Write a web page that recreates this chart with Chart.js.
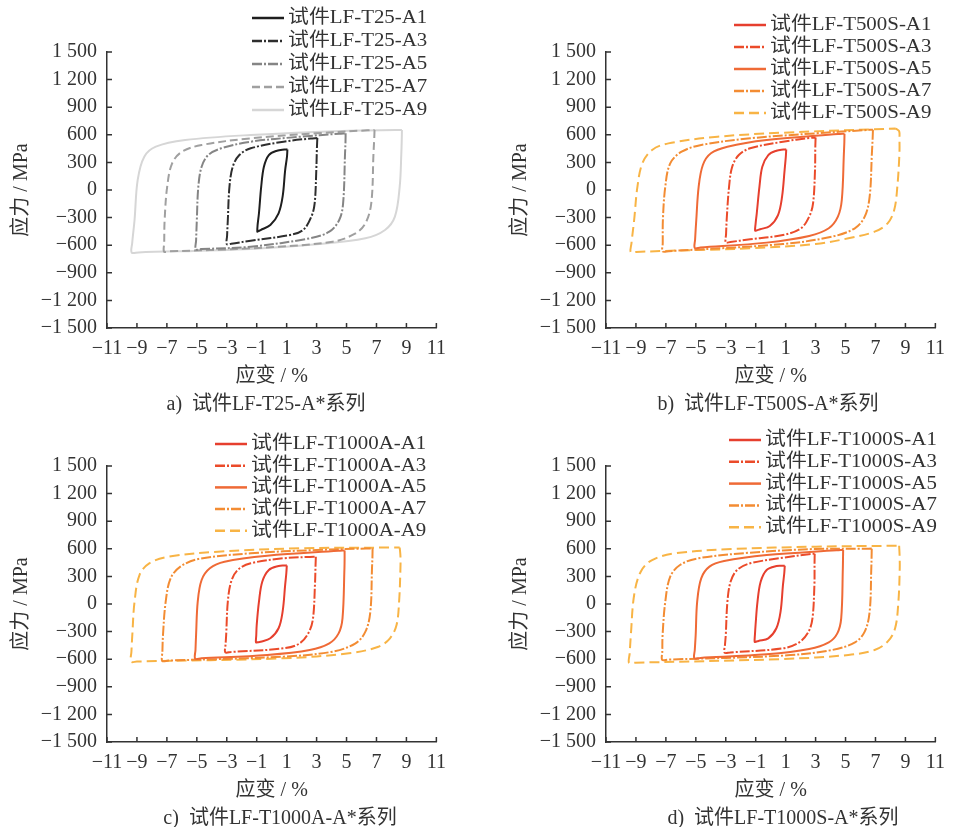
<!DOCTYPE html>
<html>
<head>
<meta charset="utf-8">
<script src="https://cdn.jsdelivr.net/npm/chart.js@4.4.1/dist/chart.umd.min.js"></script>
<style>
  body { margin: 0; background: #fff; width: 954px; height: 827px; position: relative; overflow: hidden; }
  canvas { position: absolute; }
  .cap { position: absolute; font: 20px 'Liberation Serif', 'Noto Sans CJK SC', serif; color: #333;
         transform: translateX(-50%); white-space: pre; line-height: 24px; }
</style>
</head>
<body>
<canvas id="chartA" width="455" height="395" style="left:0;top:0"></canvas>
<canvas id="chartB" width="455" height="395" style="left:499px;top:0"></canvas>
<canvas id="chartC" width="455" height="395" style="left:0;top:414px"></canvas>
<canvas id="chartD" width="455" height="395" style="left:499px;top:414px"></canvas>
<div class="cap" style="left:266px;top:391px">a)  试件LF-T25-A*系列</div>
<div class="cap" style="left:768px;top:391px">b)  试件LF-T500S-A*系列</div>
<div class="cap" style="left:280px;top:805px">c)  试件LF-T1000A-A*系列</div>
<div class="cap" style="left:783px;top:805px">d)  试件LF-T1000S-A*系列</div>
<script>
// axis ticks
const xTickValues = [-11, -9, -7, -5, -3, -1, 1, 3, 5, 7, 9, 11];
const xTickLabels = ['−11', '−9', '−7', '−5', '−3', '−1', '1', '3', '5', '7', '9', '11'];
const yTickValues = [-1500, -1200, -900, -600, -300, 0, 300, 600, 900, 1200, 1500];
const yTickLabels = ['−1 500', '−1 200', '−900', '−600', '−300', '0', '300', '600', '900', '1 200', '1 500'];

// hysteresis loops, [strain %, stress MPa]
const t25A1 = [[1.05,442],[1.02,360],[0.90,217],[0.73,-73],[0.46,-253],[-0.09,-380],[-0.74,-435],[-0.90,-448],[-0.96,-453],[-0.94,-380],[-0.85,-253],[-0.70,36],[-0.52,253],[-0.19,380],[0.35,427],[0.85,440],[1.05,442]];
const t25A3 = [[3.05,565],[3.02,450],[2.98,217],[2.87,-145],[2.65,-290],[2.10,-435],[1.22,-489],[-1.40,-551],[-2.70,-584],[-3.00,-588],[-2.98,-500],[-2.93,-326],[-2.82,36],[-2.60,253],[-2.16,380],[-1.40,453],[0.79,525],[2.60,560],[3.05,565]];
const t25A5 = [[4.94,616],[4.93,520],[4.90,399],[4.77,-145],[4.51,-326],[3.85,-453],[2.54,-525],[-1.40,-616],[-4.70,-642],[-5.07,-645],[-5.05,-550],[-5.00,-326],[-4.90,36],[-4.68,253],[-4.24,380],[-3.37,453],[-1.40,525],[1.88,579],[4.50,612],[4.94,616]];
const t25A7 = [[6.87,652],[6.85,560],[6.80,399],[6.65,-145],[6.26,-362],[5.60,-471],[4.07,-562],[-1.40,-634],[-6.80,-667],[-7.19,-670],[-7.18,-580],[-7.15,-326],[-6.98,36],[-6.65,290],[-5.99,416],[-4.68,489],[-1.40,562],[2.98,616],[6.40,649],[6.87,652]];
const t25A9 = [[8.70,652],[8.69,560],[8.66,399],[8.55,36],[8.23,-290],[7.57,-435],[6.26,-525],[2.98,-590],[-1.40,-640],[-8.90,-678],[-9.35,-680],[-9.32,-580],[-9.16,-326],[-8.95,109],[-8.51,362],[-7.74,471],[-5.77,543],[-1.40,598],[5.16,645],[8.30,652],[8.70,652]];

const t500A1 = [[1.04,442],[1.01,360],[0.93,217],[0.76,-73],[0.49,-272],[-0.06,-391],[-0.71,-427],[-0.95,-440],[-1.04,-442],[-1.01,-370],[-0.93,-253],[-0.75,36],[-0.56,253],[-0.16,380],[0.38,427],[0.85,440],[1.04,442]];
const t500A3 = [[3.00,570],[2.98,460],[2.96,217],[2.83,-145],[2.57,-290],[2.02,-416],[0.82,-489],[-1.37,-536],[-2.70,-565],[-3.00,-569],[-2.98,-480],[-2.94,-326],[-2.78,36],[-2.57,253],[-2.13,380],[-1.37,453],[0.82,525],[2.60,565],[3.00,570]];
const t500A5 = [[4.93,612],[4.92,520],[4.89,399],[4.75,-109],[4.49,-290],[3.88,-416],[2.57,-500],[-0.27,-572],[-4.70,-626],[-5.07,-630],[-5.05,-540],[-4.97,-326],[-4.81,36],[-4.53,272],[-3.99,399],[-2.89,471],[-0.27,543],[4.50,608],[4.93,612]];
const t500A7 = [[6.83,655],[6.81,560],[6.76,399],[6.61,-73],[6.28,-290],[5.62,-416],[4.10,-507],[0.82,-587],[-6.80,-665],[-7.22,-668],[-7.21,-580],[-7.20,-326],[-7.04,36],[-6.71,290],[-5.95,416],[-4.64,489],[-1.37,562],[3.00,616],[6.40,652],[6.83,655]];
const t500A9 = [[8.35,668],[8.58,640],[8.60,560],[8.60,399],[8.46,36],[8.25,-217],[7.81,-362],[6.94,-453],[5.19,-525],[3.00,-587],[-1.37,-634],[-7.26,-663],[-9.00,-673],[-9.35,-675],[-9.30,-580],[-9.12,-326],[-8.90,36],[-8.57,290],[-7.92,435],[-6.83,507],[-3.55,579],[0.82,623],[6.93,660],[8.35,668]];

const t1000aA1 = [[1.01,420],[0.98,340],[0.90,207],[0.73,-83],[0.46,-264],[-0.09,-373],[-0.74,-410],[-0.95,-416],[-1.05,-418],[-1.03,-340],[-1.00,-228],[-0.85,25],[-0.63,242],[-0.19,370],[0.46,413],[0.85,419],[1.01,420]];
const t1000aA3 = [[2.95,514],[2.93,420],[2.89,207],[2.76,-156],[2.50,-301],[1.88,-427],[0.79,-482],[-2.70,-521],[-3.10,-525],[-3.08,-440],[-3.04,-337],[-2.93,25],[-2.71,242],[-2.27,370],[-1.40,442],[0.79,497],[2.55,512],[2.95,514]];
const t1000aA5 = [[4.87,582],[4.87,490],[4.86,388],[4.73,-156],[4.47,-319],[3.85,-427],[2.54,-500],[-0.30,-554],[-4.70,-590],[-5.11,-594],[-5.09,-500],[-5.05,-337],[-4.94,25],[-4.68,261],[-4.13,388],[-3.15,460],[-0.30,525],[4.45,578],[4.87,582]];
const t1000aA7 = [[6.74,605],[6.73,510],[6.70,388],[6.59,-83],[6.26,-301],[5.60,-427],[4.07,-518],[0.79,-572],[-6.90,-615],[-7.31,-618],[-7.30,-520],[-7.26,-337],[-7.08,25],[-6.75,279],[-6.10,406],[-4.90,489],[-1.40,551],[2.98,587],[6.30,603],[6.74,605]];
const t1000aA9 = [[8.55,614],[8.60,520],[8.60,388],[8.51,25],[8.34,-228],[7.90,-373],[7.13,-464],[5.16,-536],[0.79,-590],[-9.00,-625],[-9.40,-627],[-9.37,-520],[-9.31,-337],[-9.16,25],[-8.83,315],[-8.18,442],[-6.87,514],[-3.59,569],[1.88,605],[8.10,614],[8.55,614]];

const t1000sA1 = [[0.94,416],[0.91,340],[0.82,207],[0.66,-83],[0.38,-264],[-0.16,-373],[-0.82,-402],[-0.98,-410],[-1.07,-412],[-1.05,-330],[-1.01,-228],[-0.88,25],[-0.67,242],[-0.27,370],[0.38,413],[0.80,416],[0.94,416]];
const t1000sA3 = [[2.94,547],[2.93,450],[2.92,207],[2.79,-156],[2.53,-301],[1.91,-417],[0.82,-482],[-2.70,-526],[-3.08,-530],[-3.05,-440],[-3.00,-337],[-2.89,25],[-2.68,242],[-2.24,370],[-1.37,442],[0.82,503],[2.55,542],[2.94,547]];
const t1000sA5 = [[4.84,588],[4.83,490],[4.82,388],[4.71,-156],[4.45,-319],[3.88,-417],[2.57,-489],[-0.27,-547],[-4.70,-586],[-5.10,-590],[-5.07,-500],[-5.01,-337],[-4.91,25],[-4.64,279],[-4.09,406],[-3.11,467],[-0.27,532],[4.40,584],[4.84,588]];
const t1000sA7 = [[6.75,602],[6.74,510],[6.72,388],[6.61,-83],[6.28,-301],[5.63,-417],[4.10,-500],[0.82,-561],[-6.85,-604],[-7.25,-607],[-7.24,-520],[-7.22,-337],[-7.04,25],[-6.71,297],[-6.06,424],[-4.86,496],[-1.37,558],[3.00,598],[6.30,601],[6.75,602]];
const t1000sA9 = [[8.58,634],[8.61,530],[8.62,388],[8.53,25],[8.31,-264],[7.81,-409],[6.94,-500],[5.19,-554],[0.82,-598],[-9.05,-638],[-9.46,-640],[-9.42,-540],[-9.34,-337],[-9.12,98],[-8.68,351],[-7.92,478],[-6.39,551],[-2.46,598],[3.00,623],[8.10,633],[8.58,634]];

const t25Labels = ['试件LF-T25-A1', '试件LF-T25-A3', '试件LF-T25-A5', '试件LF-T25-A7', '试件LF-T25-A9'];
const t500Labels = ['试件LF-T500S-A1', '试件LF-T500S-A3', '试件LF-T500S-A5', '试件LF-T500S-A7', '试件LF-T500S-A9'];
const t1000aLabels = ['试件LF-T1000A-A1', '试件LF-T1000A-A3', '试件LF-T1000A-A5', '试件LF-T1000A-A7', '试件LF-T1000A-A9'];
const t1000sLabels = ['试件LF-T1000S-A1', '试件LF-T1000S-A3', '试件LF-T1000S-A5', '试件LF-T1000S-A7', '试件LF-T1000S-A9'];

const grayColors = ['#1e1e1e', '#2e2e2e', '#858585', '#a0a0a0', '#d6d6d6'];
const warmColors = ['#e63f2e', '#eb4b2a', '#ef6a36', '#f38c33', '#f8b445'];
const grayDashes = [[], [10, 2, 2, 2], [10, 2, 2, 2], [8, 4], []];
const warmDashes = [[], [10, 2, 2, 2], [], [10, 2, 2, 2], [10, 5]];

const textColor = '#333';
const tickFont = { family: "'Liberation Serif', 'Times New Roman', serif", size: 20 };
const titleFont = { family: "'Liberation Serif', 'Noto Sans CJK SC', serif", size: 20 };

const inwardTicks = {
    id: 'inwardTicks',
    afterDraw(chart) {
        const { ctx, chartArea } = chart;
        const xs = chart.scales.x, ys = chart.scales.y;
        ctx.save();
        ctx.strokeStyle = textColor;
        ctx.lineWidth = 1.5;
        ctx.beginPath();
        xs.ticks.forEach(t => {
            const px = xs.getPixelForValue(t.value);
            ctx.moveTo(px, chartArea.bottom);
            ctx.lineTo(px, chartArea.bottom - 5);
        });
        ys.ticks.forEach(t => {
            const py = ys.getPixelForValue(t.value);
            ctx.moveTo(chartArea.left, py);
            ctx.lineTo(chartArea.left + 5, py);
        });
        ctx.stroke();
        ctx.restore();
    }
};

// legend sits partly above the plot area, so it is drawn by hand
function loopLegend(labels, colors, dashes, pos) {
    return {
        id: 'loopLegend',
        afterDraw(chart) {
            const ctx = chart.ctx;
            ctx.save();
            ctx.font = "19px 'Liberation Serif', 'Noto Sans CJK SC', serif";
            ctx.textBaseline = 'middle';
            labels.forEach((lab, i) => {
                const y = pos.y + i * pos.gap;
                ctx.strokeStyle = colors[i];
                ctx.lineWidth = 2.5;
                ctx.setLineDash(dashes[i]);
                ctx.beginPath();
                ctx.moveTo(pos.x, y);
                ctx.lineTo(pos.x + 32, y);
                ctx.stroke();
                ctx.setLineDash([]);
                ctx.fillStyle = textColor;
                ctx.save();
                ctx.translate(pos.x + 36, y);
                ctx.scale(1.1, 1);
                ctx.fillText(lab, 0, 0);
                ctx.restore();
            });
            ctx.restore();
        }
    };
}

function makePanel(id, loops, labels, colors, dashes, legendPos) {
    const ctx = document.getElementById(id).getContext('2d');
    return new Chart(ctx, {
        type: 'scatter',
        data: {
            datasets: loops.map((pts, i) => ({
                label: labels[i],
                data: pts.map(p => ({ x: p[0], y: p[1] })),
                showLine: true,
                borderColor: colors[i],
                borderWidth: 2,
                borderDash: dashes[i],
                pointRadius: 0,
                tension: 0.35,
                fill: false,
            })),
        },
        options: {
            responsive: false,
            animation: false,
            devicePixelRatio: 1,
            layout: { padding: { top: 52, right: 12, bottom: 6, left: 0 } },
            plugins: { legend: { display: false }, tooltip: { enabled: false } },
            scales: {
                x: {
                    type: 'linear', min: -11, max: 11,
                    afterBuildTicks: s => { s.ticks = xTickValues.map(v => ({ value: v })); },
                    afterFit: s => { s.height = 61; },
                    ticks: { callback: (v, i) => xTickLabels[i], font: tickFont, color: textColor, padding: 9, maxRotation: 0, autoSkip: false },
                    grid: { display: false, drawTicks: false },
                    border: { display: true, color: textColor, width: 1.5 },
                    title: { display: true, text: '应变 / %', font: titleFont, color: textColor, padding: { top: 0, bottom: 0 } },
                },
                y: {
                    type: 'linear', min: -1500, max: 1500,
                    afterBuildTicks: s => { s.ticks = yTickValues.map(v => ({ value: v })); },
                    afterFit: s => { s.width = 107; },
                    ticks: { callback: (v, i) => yTickLabels[i], font: tickFont, color: textColor, padding: 10, autoSkip: false },
                    grid: { display: false, drawTicks: false },
                    border: { display: true, color: textColor, width: 1.5 },
                    title: { display: true, text: '应力 / MPa', font: titleFont, color: textColor, padding: { top: 10, bottom: 0 } },
                },
            },
        },
        plugins: [inwardTicks, loopLegend(labels, colors, dashes, legendPos)],
    });
}

makePanel('chartA', [t25A1, t25A3, t25A5, t25A7, t25A9], t25Labels, grayColors, grayDashes, { x: 252, y: 18, gap: 23 });
makePanel('chartB', [t500A1, t500A3, t500A5, t500A7, t500A9], t500Labels, warmColors, warmDashes, { x: 235, y: 25, gap: 22 });
makePanel('chartC', [t1000aA1, t1000aA3, t1000aA5, t1000aA7, t1000aA9], t1000aLabels, warmColors, warmDashes, { x: 215, y: 30, gap: 21.7 });
makePanel('chartD', [t1000sA1, t1000sA3, t1000sA5, t1000sA7, t1000sA9], t1000sLabels, warmColors, warmDashes, { x: 230, y: 26, gap: 21.8 });
</script>
</body>
</html>
